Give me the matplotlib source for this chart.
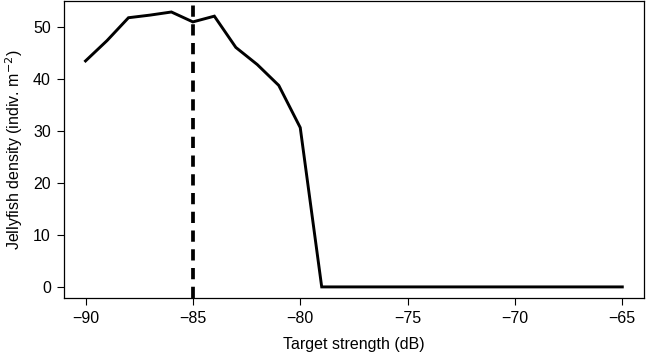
import numpy as np
import matplotlib.pyplot as plt

plt.rcParams['font.family'] = ['Liberation Sans', 'DejaVu Sans']

# target strength (dB) and jellyfish density
ts = [-90, -89, -88, -87, -86, -85, -84, -83, -82, -81, -80, -79,
      -78, -77, -76, -75, -74, -73, -72, -71, -70, -69, -68, -67, -66, -65]
density = [43.4, 47.3, 51.7, 52.2, 52.8, 50.9, 52.0, 46.0, 42.7, 38.7, 30.6, 0.0,
           0, 0, 0, 0, 0, 0, 0, 0, 0, 0, 0, 0, 0, 0]
threshold = -85

fig = plt.figure(figsize=(6.47, 3.55), dpi=100)
ax = fig.add_axes([0.099, 0.161, 0.896, 0.836])

ax.plot(ts, density, color='black', lw=2.1, solid_joinstyle='miter')
ax.axvline(threshold, color='black', lw=2.7, ls=(0, (3, 2)))

ax.set_xlim(-91.0, -64.0)
ax.set_ylim(-2.1, 54.9)
ax.set_xticks([-90, -85, -80, -75, -70, -65])
ax.set_yticks([0, 10, 20, 30, 40, 50])
ax.tick_params(direction='out', length=5, width=0.8, labelsize=11.5, pad=4.5)

for s in ax.spines.values():
    s.set_linewidth(0.9)

ax.set_xlabel('Target strength (dB)', fontsize=11.5, labelpad=8)
ax.set_ylabel('Jellyfish density (indiv. m$^{-2}$)', fontsize=11.5, labelpad=6)

fig.savefig('out.png', dpi=100)
